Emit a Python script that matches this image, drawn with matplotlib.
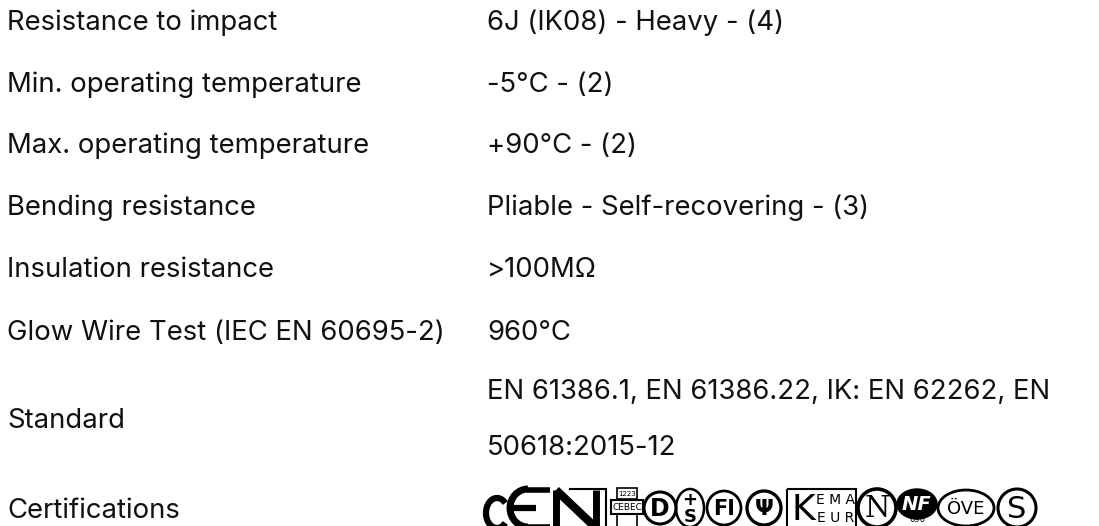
import matplotlib
matplotlib.use("Agg")
import matplotlib.pyplot as plt
from matplotlib.patches import Circle, Ellipse, Rectangle, Arc

# ---- data ----
labels = [
    "Resistance to impact",
    "Min. operating temperature",
    "Max. operating temperature",
    "Bending resistance",
    "Insulation resistance",
    "Glow Wire Test (IEC EN 60695-2)",
    "Standard",
    "Certifications",
]
values = [
    ["6J (IK08) - Heavy - (4)"],
    ["-5°C - (2)"],
    ["+90°C - (2)"],
    ["Pliable - Self-recovering - (3)"],
    [">100MΩ"],
    ["960°C"],
    ["EN 61386.1, EN 61386.22, IK: EN 62262, EN", "50618:2015-12"],
    [],
]
cert_marks = ["CE", "EN", "CEBEC", "D", "S", "FI", "SEV", "KEMA-KEUR", "N", "NF", "ÖVE", "S-mark"]

# ---- layout ----
W, H = 1099, 526
fig = plt.figure(figsize=(W / 100, H / 100), dpi=100)
ax = fig.add_axes([0, 0, 1, 1])
ax.set_xlim(0, W)
ax.set_ylim(H, 0)
ax.axis("off")

FONT = "Inter"
FS = 19.8
COL = "#111111"
label_x = 7
value_x = 487
row_base = [30, 92, 153, 215, 277, 340, 428, 518]
value_lines = {6: [399, 455]}

for i, lab in enumerate(labels):
    ax.text(label_x, row_base[i], lab, fontsize=FS, family=FONT, color=COL, va="baseline", ha="left")
    ys = value_lines.get(i, [row_base[i]])
    for v, y in zip(values[i], ys):
        ax.text(value_x, y, v, fontsize=FS, family=FONT, color=COL, va="baseline", ha="left")

# ---- certification logos (drawn approximations) ----
cy = 508
k = "black"
# CE "C"
ax.add_patch(Arc((497, 513), 22, 30, theta1=50, theta2=310, lw=4.5, color=k))
# EN mark
ax.add_patch(Arc((528, cy), 36, 38, theta1=90, theta2=270, lw=5, color=k))
ax.plot([512, 536], [cy, cy], color=k, lw=4.5, solid_capstyle="butt")
ax.plot([527, 550], [489.5, 489.5], color=k, lw=4, solid_capstyle="butt")
ax.plot([527, 550], [526.5, 526.5], color=k, lw=4, solid_capstyle="butt")
ax.plot([556, 556], [490, 528], color=k, lw=5, solid_capstyle="butt")
ax.plot([556, 596], [490, 528], color=k, lw=6, solid_capstyle="butt")
ax.plot([596, 596], [490, 528], color=k, lw=5, solid_capstyle="butt")
ax.plot([570, 606], [489, 489], color=k, lw=1.5)
ax.plot([606, 606], [489, 528], color=k, lw=1.5)
# CEBEC
ax.add_patch(Rectangle((617, 488), 20, 11, fill=False, lw=1.2, ec=k))
ax.text(627, 494, "1223", fontsize=5, family="DejaVu Sans", ha="center", va="center", color=k)
ax.add_patch(Rectangle((611, 500), 32, 14, fill=False, lw=1.5, ec=k))
ax.text(627, 507.5, "CEBEC", fontsize=6.5, family="DejaVu Sans", ha="center", va="center", color=k)
ax.plot([617, 617], [514, 528], color=k, lw=1.2)
ax.plot([637, 637], [514, 528], color=k, lw=1.2)
# D
ax.add_patch(Circle((660, cy), 16, fill=False, lw=2.2, ec=k))
ax.text(660, cy + 1, "D", fontsize=17, weight="bold", family="DejaVu Sans", ha="center", va="center", color=k)
# +S
ax.add_patch(Ellipse((690, cy), 28, 38, fill=False, lw=1.8, ec=k))
ax.text(690, cy - 8, "+", fontsize=13, weight="bold", family="DejaVu Sans", ha="center", va="center", color=k)
ax.text(690, cy + 9, "S", fontsize=13, weight="bold", family="DejaVu Sans", ha="center", va="center", color=k)
# FI
ax.add_patch(Circle((724, cy), 17, fill=False, lw=2, ec=k))
ax.text(724, cy + 1, "FI", fontsize=15, weight="bold", family="DejaVu Sans", ha="center", va="center", color=k)
# SEV
ax.add_patch(Circle((764, cy), 17, fill=False, lw=2.4, ec=k))
ax.text(764, cy + 1, "Ψ", fontsize=16, weight="bold", family="DejaVu Sans", ha="center", va="center", color=k)
# KEMA-KEUR
ax.add_patch(Rectangle((787, 489), 69, 40, fill=False, lw=1.5, ec=k))
ax.text(803, cy + 2, "K", fontsize=26, family="DejaVu Sans", ha="center", va="center", color=k)
ax.text(836, cy - 8, "E M A", fontsize=10, family="DejaVu Sans", ha="center", va="center", color=k)
ax.text(836, cy + 10, "E U R", fontsize=10, family="DejaVu Sans", ha="center", va="center", color=k)
# N
ax.add_patch(Circle((877, cy), 19, fill=False, lw=2.6, ec=k))
ax.text(877, cy + 1, "N", fontsize=21, family="DejaVu Serif", ha="center", va="center", color=k)
# NF
ax.add_patch(Ellipse((917, cy - 4), 40, 30, fc=k, ec=k))
ax.text(916, cy - 4, "NF", fontsize=14, weight="bold", style="italic", family="DejaVu Sans", ha="center", va="center", color="white")
ax.text(917, 520, "696", fontsize=6, family="DejaVu Sans", ha="center", va="center", color=k)
# OVE
ax.add_patch(Ellipse((966, cy), 56, 36, fill=False, lw=2, ec=k))
ax.text(966, cy + 1, "ÖVE", fontsize=13, family="DejaVu Sans", ha="center", va="center", color=k)
# S
ax.add_patch(Circle((1017, cy), 19, fill=False, lw=2.2, ec=k))
ax.text(1017, cy + 1, "S", fontsize=22, family="DejaVu Sans", ha="center", va="center", color=k)

fig.savefig("out.png", dpi=100, facecolor="white")
